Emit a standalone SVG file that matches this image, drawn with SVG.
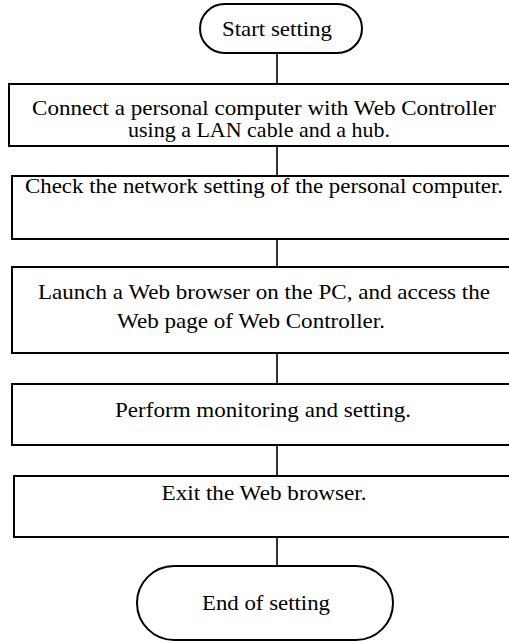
<svg xmlns="http://www.w3.org/2000/svg" width="509" height="641" viewBox="0 0 509 641">
<style>
.box{fill:#fff;stroke:#000;stroke-width:2}
.term{fill:#fff;stroke:#000;stroke-width:2}
.conn{stroke:#000;stroke-width:1.6;fill:none}
text{font-family:'Liberation Serif','Times New Roman','DejaVu Serif',serif;font-size:21px;fill:#000;text-anchor:middle}
</style>
<rect width="509" height="641" fill="#fff"/>
<g id="connectors">
<line class="conn" x1="277" y1="53" x2="277" y2="84"/>
<line class="conn" x1="277" y1="146" x2="277" y2="176"/>
<line class="conn" x1="277" y1="239" x2="277" y2="267"/>
<line class="conn" x1="277" y1="353" x2="277" y2="384"/>
<line class="conn" x1="277" y1="445" x2="277" y2="476"/>
<line class="conn" x1="277" y1="537" x2="277" y2="566"/>
</g>
<g id="start">
<rect class="term" x="200" y="4" width="162" height="49" rx="24.5"/>
<text x="277" y="36" textLength="110" lengthAdjust="spacingAndGlyphs">Start setting</text>
</g>
<g id="step1">
<rect class="box" x="9" y="84" width="520" height="62"/>
<text x="264" y="115" textLength="464" lengthAdjust="spacingAndGlyphs">Connect a personal computer with Web Controller</text>
<text x="259" y="137" textLength="262" lengthAdjust="spacingAndGlyphs">using a LAN cable and a hub.</text>
</g>
<g id="step2">
<rect class="box" x="12" y="176" width="520" height="63"/>
<text x="264" y="193" textLength="478" lengthAdjust="spacingAndGlyphs">Check the network setting of the personal computer.</text>
</g>
<g id="step3">
<rect class="box" x="12" y="267" width="520" height="86"/>
<text x="264" y="299" textLength="452" lengthAdjust="spacingAndGlyphs">Launch a Web browser on the PC, and access the</text>
<text x="251" y="328" textLength="268" lengthAdjust="spacingAndGlyphs">Web page of Web Controller.</text>
</g>
<g id="step4">
<rect class="box" x="12" y="384" width="520" height="61"/>
<text x="263" y="417" textLength="296" lengthAdjust="spacingAndGlyphs">Perform monitoring and setting.</text>
</g>
<g id="step5">
<rect class="box" x="14" y="476" width="520" height="61"/>
<text x="264" y="500" textLength="205" lengthAdjust="spacingAndGlyphs">Exit the Web browser.</text>
</g>
<g id="end">
<rect class="term" x="137" y="566" width="256" height="74" rx="37"/>
<text x="266" y="610" textLength="128" lengthAdjust="spacingAndGlyphs">End of setting</text>
</g>
</svg>
